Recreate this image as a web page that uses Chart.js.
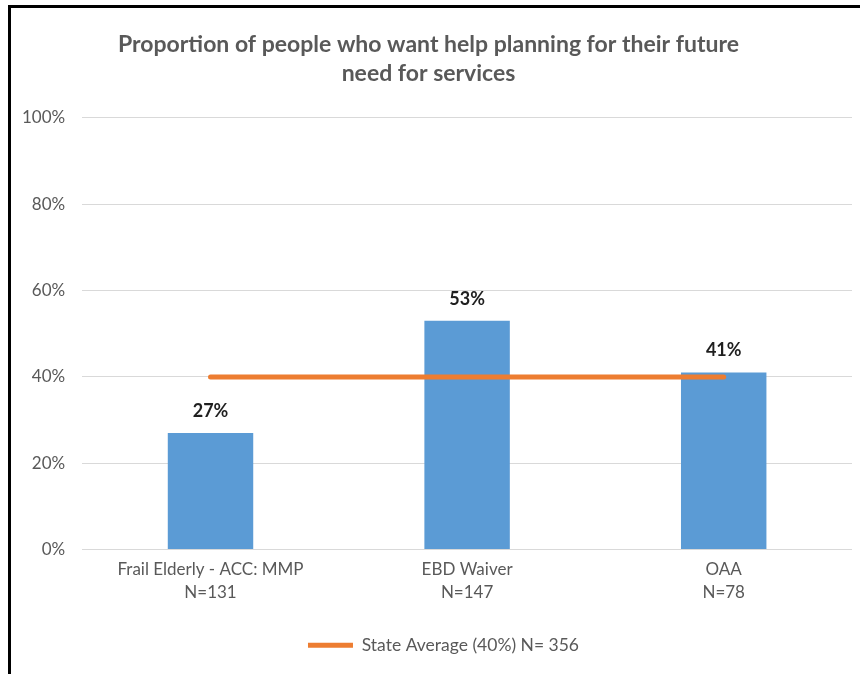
<!DOCTYPE html>
<html lang="en">
<head>
  <meta charset="UTF-8">
  <title>Help planning for future need for services</title>
  <script src="https://cdn.jsdelivr.net/npm/chart.js@4.4.0/dist/chart.umd.min.js"></script>
  <style>
    html, body { margin: 0; padding: 0; background: #fff; }
    #frame {
      position: absolute; left: 8px; top: 5px; width: 852px; height: 669px;
      border-left: 3px solid #000; border-top: 3px solid #000;
    }
    #wrap { position: absolute; left: 0; top: 0; width: 860px; height: 674px; }
  </style>
</head>
<body>
  <div id="frame"></div>
  <div id="wrap"><canvas id="chart" width="860" height="674"></canvas></div>
  <script>
    // values
    const groups = [
      ['Frail Elderly - ACC: MMP', 'N=131'],
      ['EBD Waiver', 'N=147'],
      ['OAA', 'N=78']
    ];
    const percents = [27, 53, 41];
    const stateAvg = [40, 40, 40];
    const avgLabel = 'State Average (40%) N= 356';
    const titleLines = ['Proportion of people who want help planning for their future', 'need for services'];

    const font = 'Lato, "Liberation Sans", sans-serif';
    const grey = '#595959';

    // bold % above each bar
    const barLabels = {
      id: 'barLabels',
      afterDatasetsDraw(chart) {
        const meta = chart.getDatasetMeta(0);
        const ctx = chart.ctx;
        ctx.save();
        ctx.font = 'bold 18px ' + font;
        ctx.fillStyle = '#1f1f1f';
        ctx.textAlign = 'center';
        ctx.textBaseline = 'middle';
        meta.data.forEach((bar, i) => {
          ctx.fillText(percents[i] + '%', bar.x, bar.y - 22);
        });
        ctx.restore();
      }
    };

    // legend in the original sits a bit right of centre
    const nudgeLegend = {
      id: 'nudgeLegend',
      afterLayout(chart) {
        chart.legend.left += 15;
        chart.legend.right += 15;
      }
    };

    const ctx = document.getElementById('chart').getContext('2d');
    new Chart(ctx, {
      data: {
        labels: groups,
        datasets: [
          {
            type: 'bar',
            label: 'Percent',
            data: percents,
            backgroundColor: '#5b9bd5',
            barPercentage: 1,
            categoryPercentage: 0.333,
            order: 1
          },
          {
            type: 'line',
            label: avgLabel,
            data: stateAvg,
            borderColor: '#ed7d31',
            backgroundColor: '#ed7d31',
            borderWidth: 5,
            borderCapStyle: 'round',
            pointRadius: 0,
            fill: false,
            order: 0
          }
        ]
      },
      options: {
        responsive: false,
        animation: false,
        layout: { padding: { left: 5, right: 8, top: 30, bottom: 10 } },
        plugins: {
          title: {
            display: true,
            text: titleLines,
            color: grey,
            font: { family: font, size: 23, weight: 'bold', lineHeight: 1.26 },
            padding: { top: 0, bottom: 30 }
          },
          legend: {
            position: 'bottom',
            labels: {
              filter: item => item.datasetIndex === 1,
              usePointStyle: true,
              pointStyle: 'line',
              pointStyleWidth: 45,
              color: grey,
              font: { family: font, size: 17.5 },
              padding: 10
            }
          },
          tooltip: { enabled: false }
        },
        scales: {
          x: {
            grid: { display: false },
            border: { display: false },
            ticks: { color: grey, font: { family: font, size: 17, lineHeight: 1.35 }, padding: 1 },
            afterFit: scale => { scale.height = 77; }
          },
          y: {
            min: 0,
            max: 100,
            ticks: {
              stepSize: 20,
              color: grey,
              font: { family: font, size: 17 },
              padding: 17,
              callback: v => v + '%'
            },
            grid: { color: '#d9d9d9', lineWidth: 1, drawTicks: false },
            border: { display: false }
          }
        }
      },
      plugins: [barLabels, nudgeLegend]
    });
  </script>
</body>
</html>
